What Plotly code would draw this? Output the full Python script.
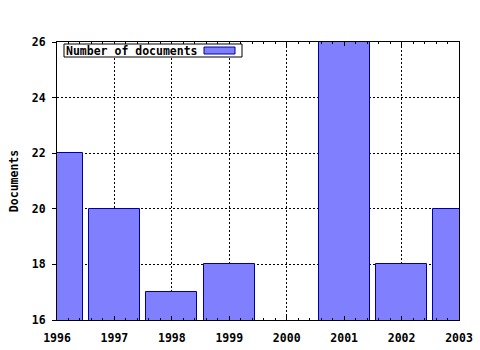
import plotly.graph_objects as go

years = [1996, 1997, 1998, 1999, 2000, 2001, 2002, 2003]
documents = [22, 20, 17, 18, 16, 26, 18, 20]
y_ticks = [16, 18, 20, 22, 24, 26]
series_name = "Number of documents"

FONT = dict(family="DejaVu Sans Mono", size=11.5, color="black")

L, R, T, B = 57, 459, 42, 320
PW, PH = R - L, B - T

fig = go.Figure()
fig.add_trace(go.Bar(
    x=years, y=documents, width=0.89,
    marker=dict(color="#8080ff",
                line=dict(color="#0000a0", width=[0 if v <= 16 else 1 for v in documents])),
    showlegend=False,
))

fig.update_layout(
    width=480, height=350,
    margin=dict(l=L, r=480 - R, t=T, b=350 - B, autoexpand=False),
    paper_bgcolor="white", plot_bgcolor="white",
    font=FONT,
    xaxis=dict(
        range=[1996, 2003], tickmode="array", tickvals=years,
        ticktext=[f"<b>{y}</b>" for y in years],
        ticks="inside", ticklen=4, tickcolor="black",
        minor=dict(ticks="inside", ticklen=2, tickcolor="black", dtick=0.2, showgrid=False),
        showline=True, linecolor="black", linewidth=1, mirror="ticks",
        showgrid=True, gridcolor="black", griddash="2px,2px", gridwidth=1,
        zeroline=False, tickfont=FONT, automargin=False, ticklabelstandoff=7,
    ),
    yaxis=dict(
        range=[16, 26], tickmode="array", tickvals=y_ticks,
        ticktext=[f"<b>{v}</b>" for v in y_ticks],
        ticks="outside", ticklen=4, tickcolor="black",
        showline=True, linecolor="black", linewidth=1, mirror=True,
        showgrid=True, gridcolor="black", griddash="2px,2px", gridwidth=1,
        zeroline=False, tickfont=FONT, automargin=False, ticklabelstandoff=4,
        title=dict(text="<b>Documents</b>", font=FONT, standoff=10),
    ),
    bargap=0,
)

# legend box (manual, swatch after text as in reference)
fig.add_shape(type="rect", xref="paper", yref="paper",
              x0=(64 - L) / PW, x1=(242 - L) / PW,
              y0=(B - 57) / PH, y1=(B - 44) / PH,
              line=dict(color="black", width=1), fillcolor="white", layer="above")
fig.add_shape(type="rect", xref="paper", yref="paper",
              x0=(204 - L) / PW, x1=(235 - L) / PW,
              y0=(B - 54) / PH, y1=(B - 47) / PH,
              line=dict(color="#0000a0", width=1), fillcolor="#8080ff", layer="above")
fig.add_annotation(xref="paper", yref="paper", x=(64 - L) / PW, y=(B - 50.5) / PH,
                   xanchor="left", yanchor="middle", showarrow=False,
                   text=f"<b>{series_name}</b>", font=FONT)

fig.write_html("out.html")
